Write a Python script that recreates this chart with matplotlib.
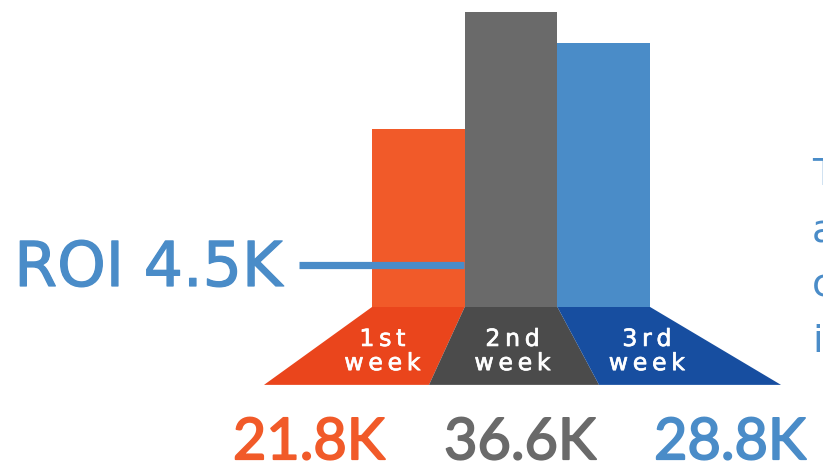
import matplotlib.pyplot as plt
import matplotlib.patheffects as pe
from matplotlib.patches import Polygon

weeks = ['1st', '2nd', '3rd']
totals = ['21.8K', '36.6K', '28.8K']
# bar heights (tallest bar = 100)
bar_heights = [60.3, 100, 89.5]
roi_label = 'ROI 4.5K'
side_text = ['T', 'a', 'c', 'i']

bar_colors = ['#F15A29', '#6A6A6A', '#4A8CC8']
base_colors = ['#EA451C', '#4B4B4B', '#174EA0']
blue = '#4A8CC8'


def heavier(color, w):
    # thicken regular glyphs a bit, the original uses a medium weight
    return [pe.withStroke(linewidth=w, foreground=color)]


fig = plt.figure(figsize=(8.23, 4.66), dpi=100)
ax = fig.add_axes([0, 0, 1, 1])
ax.set_xlim(-4.513, 4.365)
ax.set_ylim(-53.9, 104.07)
ax.axis('off')

x = list(range(len(weeks)))
ax.bar(x, bar_heights, width=1.0, color=bar_colors, zorder=2)

# flared base under the bars
base_depth = 26.4
base_edges = [-1.665, 0.115, 1.949, 3.912]
for i in range(len(weeks)):
    corners = [(i - 0.5, 0), (i + 0.5, 0), (base_edges[i + 1], -base_depth), (base_edges[i], -base_depth)]
    ax.add_patch(Polygon(corners, closed=True, color=base_colors[i], lw=0, zorder=2))
    cx = sum(c[0] for c in corners) / 4.0
    ax.text(cx, -13.2, '\u2009'.join(weeks[i]), color='white', fontsize=17, ha='center', va='baseline',
            zorder=3, path_effects=heavier('white', 0.5))
    ax.text(cx, -21.4, '\u2009'.join('week'), color='white', fontsize=17, ha='center', va='baseline',
            zorder=3, path_effects=heavier('white', 0.5))

# totals below
total_x = [-1.18, 1.097, 3.362]
for i in range(len(totals)):
    ax.text(total_x[i], -51.6, totals[i], color=bar_colors[i], fontsize=41.5, family='Lato',
            ha='center', va='baseline', path_effects=heavier(bar_colors[i], 1.3))

# ROI pointer
ax.plot([-1.2875, 0.49], [14.07, 14.07], color=blue, lw=5.2, solid_capstyle='butt', zorder=3)
ax.text(-1.47, 7.12, roi_label, color=blue, fontsize=44.5, ha='right', va='baseline',
        path_effects=heavier(blue, 0.9))

# cut-off text on the right
side_y = [41.4, 22.0, 3.4, -15.3]
for t, yy in zip(side_text, side_y):
    ax.text(4.246, yy, t, color=blue, fontsize=27.5, ha='left', va='baseline')

plt.savefig('out.png', dpi=100)
